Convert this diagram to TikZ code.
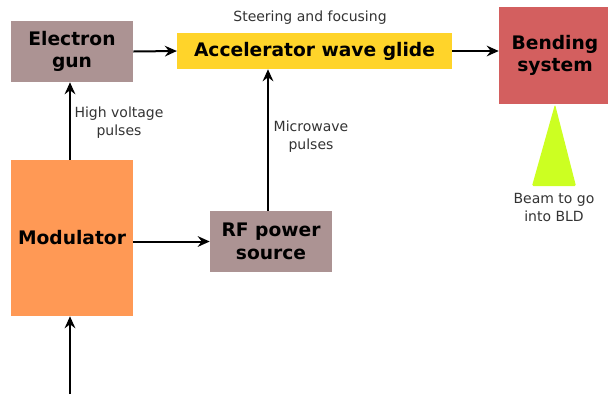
\documentclass[tikz,border=0pt]{standalone}
\usepackage{fontspec}
\setmainfont{DejaVu Sans}
\definecolor{gunmauve}{HTML}{AC9393}
\definecolor{guideyellow}{HTML}{FFD42A}
\definecolor{bendred}{HTML}{D35F5F}
\definecolor{modorange}{HTML}{FF9955}
\definecolor{beamgreen}{HTML}{CCFF22}
\definecolor{labelgray}{HTML}{333333}
\usetikzlibrary{arrows.meta,positioning,calc}
\begin{document}
\begin{tikzpicture}[x=0.75pt,y=-0.75pt,
  blk/.style={inner sep=0pt, align=center,
              font=\fontsize{14}{17}\selectfont\bfseries},
  lbl/.style={align=center, inner sep=0pt, text=labelgray,
              font=\fontsize{10.5}{13.5}\selectfont},
  arr/.style={-{Stealth[length=9pt,width=8pt,inset=3pt]},line width=1.5pt}
]
  \useasboundingbox (0,0) rectangle (608,394);

  \node[blk, fill=gunmauve, minimum width=91.5pt, minimum height=45.75pt]
    (gun) at (72,51.5) {Electron\\gun};
  \node[blk, fill=guideyellow, minimum width=206pt, minimum height=27pt]
    (guide) at (314.5,51) {Accelerator wave glide};
  \node[blk, fill=bendred, minimum width=84pt, minimum height=72.75pt]
    (bend) at (555,55.5) {Bending\\system};
  \node[blk, fill=modorange, minimum width=91.5pt, minimum height=117pt]
    (mod) at (72,238) {Modulator};
  \node[blk, fill=gunmauve, minimum width=91.5pt, minimum height=45.75pt]
    (rf) at (271,241.5) {RF power\\source};

  % beam cone below the bending system
  \fill[beamgreen, rounded corners=1pt]
    (bend.south) -- (576,186) -- (532,186) -- cycle;

  \coordinate (feed) at (70,394);

  \draw[arr] (gun.east) -- (guide.west);
  \draw[arr] (guide.east) -- (bend.west |- guide.east);
  \draw[arr] (mod.north -| feed) -- (gun.south -| feed);
  \draw[arr] (feed) -- (mod.south -| feed);
  \draw[arr] (mod.east |- rf) -- (rf.west);
  \draw[arr] ($(rf.north)+(-3,0)$) -- ($(rf.north |- guide.south)+(-3,0)$);

  \node[lbl] (steer) at (310,18) {Steering and focusing};
  \node[lbl] (hv) at (119,123) {High voltage\\pulses};
  \node[lbl] (mw) at (311,137) {Microwave\\pulses};
  \node[lbl] (beam) at (554,207) {Beam to go\\into BLD};
\end{tikzpicture}
\end{document}
